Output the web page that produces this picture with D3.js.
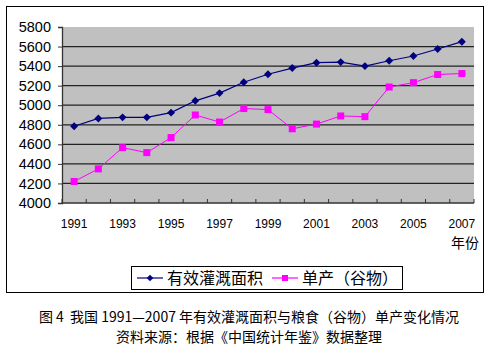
<!DOCTYPE html>
<html><head><meta charset="utf-8">
<script src="https://cdn.jsdelivr.net/npm/d3@7"></script>
<style>body{margin:0;background:#fff;}svg{display:block;}</style>
</head><body>
<script>
const years = d3.range(1991, 2008).map(String);
const irrigation = [4785,4865,4876,4876,4924,5045,5124,5235,5317,5380,5435,5441,5400,5455,5503,5575,5650];
const grainYield = [4220,4349,4566,4515,4669,4900,4828,4966,4955,4759,4807,4890,4883,5186,5231,5314,5324];
const yTicks = [4000,4200,4400,4600,4800,5000,5200,5400,5600,5800];
const xLabels = ["1991","1993","1995","1997","1999","2001","2003","2005","2007"];
const seriesNames = ["有效灌溉面积","单产（谷物）"];
const caption1 = "图 4  我国 1991—2007 年有效灌溉面积与粮食（谷物）单产变化情况";
const caption2 = "资料来源：根据《中国统计年鉴》数据整理";

const W=495,H=350;
const svg=d3.select("body").append("svg").attr("width",W).attr("height",H);
const font="'Noto Sans CJK SC', 'DejaVu Sans', sans-serif";
svg.append("rect").attr("x",6.5).attr("y",6.5).attr("width",477).attr("height",286)
  .attr("fill","#fff").attr("stroke","#000").attr("stroke-width",1);

const L=62,R=474,T=27,B=203;
const x=d3.scaleBand().domain(years).range([L,R]);
const y=d3.scaleLinear().domain([4000,5800]).range([B,T]);

svg.append("rect").attr("x",L).attr("y",T).attr("width",R-L).attr("height",B-T).attr("fill","#C0C0C0");
svg.append("g").selectAll("line").data(yTicks.filter(v=>v>4000&&v<5800)).join("line")
  .attr("x1",L).attr("x2",R).attr("y1",d=>y(d)).attr("y2",d=>y(d))
  .attr("stroke","#222").attr("stroke-width",1.3);

const yAxis=d3.axisLeft(y).tickValues(yTicks).tickSize(4).tickFormat(d3.format("d"));
const gy=svg.append("g").attr("transform",`translate(${L},0)`).call(yAxis);
gy.select(".domain").attr("stroke","#333").attr("stroke-width",1.3);
gy.selectAll(".tick line").attr("stroke","#333");
gy.selectAll("text").attr("font-family","'Liberation Sans', Arial, sans-serif").attr("font-size",14.5).attr("fill","#000").attr("x",-11);

const bounds=years.map(d=>x(d)).concat([R]);
svg.append("g").selectAll("line").data(bounds).join("line")
  .attr("x1",d=>d).attr("x2",d=>d).attr("y1",B).attr("y2",B-4).attr("stroke","#333");
svg.append("line").attr("x1",L).attr("x2",R).attr("y1",B).attr("y2",B).attr("stroke","#333").attr("stroke-width",1.3);
svg.append("g").selectAll("text").data(xLabels).join("text")
  .attr("x",d=>x(d)+x.bandwidth()/2).attr("y",228).attr("text-anchor","middle")
  .attr("font-family","'Liberation Sans', Arial, sans-serif").attr("font-size",12).text(d=>d);
svg.append("text").attr("x",479).attr("y",248).attr("text-anchor","end")
  .attr("font-family",font).attr("font-size",14).text("年份");

const cx=d=>x(d)+x.bandwidth()/2;
const line=d3.line().x((d,i)=>cx(years[i])).y(d=>y(d));
svg.append("path").datum(irrigation).attr("d",line).attr("fill","none").attr("stroke","#000080").attr("stroke-width",1.2);
svg.append("path").datum(grainYield).attr("d",line).attr("fill","none").attr("stroke","#FF00FF").attr("stroke-width",1);
const diamond=d3.symbol().type(d3.symbolDiamond2).size(40);
svg.append("g").selectAll("path").data(irrigation).join("path")
  .attr("d",diamond).attr("transform",(d,i)=>`translate(${cx(years[i])},${y(d)})`).attr("fill","#000080");
svg.append("g").selectAll("rect").data(grainYield).join("rect")
  .attr("x",(d,i)=>cx(years[i])-3.5).attr("y",d=>y(d)-3.5).attr("width",7).attr("height",7).attr("fill","#FF00FF");

svg.append("rect").attr("x",131.5).attr("y",266.5).attr("width",271).attr("height",23).attr("fill","#fff").attr("stroke","#000");
const lg=[{x:137,c:"#000080",t:"d"},{x:272,c:"#FF00FF",t:"s"}];
lg.forEach((o,i)=>{
  svg.append("line").attr("x1",o.x).attr("x2",o.x+26).attr("y1",278).attr("y2",278).attr("stroke",o.c).attr("stroke-width",1.2);
  if(o.t==="d") svg.append("path").attr("d",d3.symbol().type(d3.symbolDiamond2).size(28)()).attr("transform",`translate(${o.x+13},278)`).attr("fill",o.c);
  else svg.append("rect").attr("x",o.x+10).attr("y",275).attr("width",6).attr("height",6).attr("fill",o.c);
  svg.append("text").attr("x",o.x+30).attr("y",284).attr("font-family",font).attr("font-size",16).text(seriesNames[i]);
});

svg.append("text").attr("x",249).attr("y",322).attr("text-anchor","middle").attr("font-family",font).attr("font-size",14).attr("xml:space","preserve").style("white-space","pre").text(caption1);
svg.append("text").attr("x",249).attr("y",342).attr("text-anchor","middle").attr("font-family",font).attr("font-size",14).text(caption2);
</script>
</body></html>
